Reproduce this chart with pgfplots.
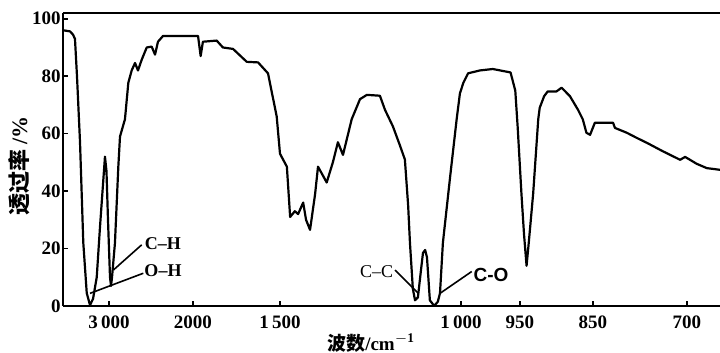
\documentclass[border=0pt]{standalone}
\usepackage{fontspec}
\setmainfont{Liberation Serif}
\newfontfamily\cjk{Noto Sans CJK SC}
\newfontfamily\sansb{Liberation Sans}
\usepackage{pgfplots}
\usepackage{pgfplotstable}
\pgfplotsset{compat=1.18}

% IR spectrum: wavenumber (cm^-1) vs transmittance (%)
\pgfplotstableread{
wn T
3548 96
3464 95.6
3429 94.5
3405 93
3381 80
3345 57
3306 22
3265 4.5
3226 0.3
3190 2.5
3146 10
3107 27.6
3077 40
3048 52
3030 47
3012 30
2988 10
2976 7
2964 10
2929 22
2889 48.5
2869 59
2810 65
2770 77.7
2730 82
2690 84.6
2655 82
2611 85.7
2551 90
2492 90.3
2452 87.5
2417 92
2357 94
1971 94
1956 87
1943 92
1864 92.4
1828 90
1770 89.5
1691 85
1626 84.8
1569 81
1519 66
1500 53
1481 48.5
1472 31
1459 33
1450 32
1436 36
1428 30
1417 26.5
1403 39
1395 48.5
1384 46
1371 43
1354 50
1340 57
1326 52.6
1302 65
1279 72
1260 73.5
1224 73.2
1210 68.3
1188 62.5
1169 56
1155 51
1146 35
1141 22
1133 6
1127 2
1119 3
1111 12
1105 18.5
1099 19.5
1094 17
1086 2
1077 0.5
1072 0.3
1064 1.5
1058 4.5
1050 22
1030 45
1012 65
1003 74
998 77.7
994 81
984 82
973 82.5
958 81.3
954 75
952 62.5
948 39
944.5 25
941 14
938 22
932 39
925 65
923 69
917 73
912 74.7
900 74.7
893 76
881.5 73
870.5 68.3
864 65
859 60.3
854 59.6
847 63.8
818 63.8
815 62
796 60.3
780 58.5
764 56.8
738 53.8
711 50.9
703 51.9
684.5 49.5
668.5 48
647 47.4
}\spectrum

% piecewise scale of the printed wavenumber axis
\newcommand{\wnpos}[1]{((#1)>1999.99 ? 109+(3000-(#1))*0.084 : ((#1)>1499.99 ? 193+(2000-(#1))*0.174 : ((#1)>999.99 ? 280+(1500-(#1))*0.362 : ((#1)>949.99 ? 461+(1000-(#1))*1.18 : ((#1)>849.99 ? 520+(950-(#1))*0.73 : 593+(850-(#1))*0.62667)))))}

\begin{document}
\begin{tikzpicture}
\begin{axis}[
  scale only axis, width=328.5pt, height=146.5pt,
  xmin=63, xmax=720, ymin=0, ymax=102,
  axis x line=box, axis y line=left,
  axis line style={-, line width=1pt, black},
  xtick pos=left, ytick pos=left,
  tick align=inside, major tick length=2.5pt,
  tick style={line width=0.8pt, black},
  xtick={109,193,280,461,520,593,687},
  xticklabels={3\,000,2000,1\,500,1\,000,950,850,700},
  ytick={0,20,40,60,80,100},
  /pgf/number format/assume math mode=true,
  tick label style={font=\fontsize{9.5}{10}\selectfont\bfseries},
  yticklabel style={inner xsep=1pt},
  xticklabel style={inner ysep=4.5pt},
  ylabel={{\cjk\bfseries 透过率} \textbf{/\%}},
  ylabel style={at={(axis description cs:-0.067,0.478)}, anchor=center, font=\fontsize{11}{12}\selectfont},
  xlabel={{\cjk\bfseries 波数}\textbf{/cm}$^{\mathbf{-1}}$},
  xlabel style={at={(axis description cs:0.469,-0.126)}, anchor=center, font=\fontsize{9.5}{10}\selectfont},
  clip=false,
]
\addplot[black, line width=1.1pt, line join=round] table[x expr={\wnpos{\thisrow{wn}}}, y=T] {\spectrum};

\draw[line width=0.8pt] (axis cs:113.3,12.5) -- (axis cs:141.7,21.3);
\draw[line width=0.8pt] (axis cs:90,4.4) -- (axis cs:143.3,11.4);
\draw[line width=0.8pt] (axis cs:395,12.5) -- (axis cs:418.3,4.4);
\draw[line width=0.8pt] (axis cs:471.7,12) -- (axis cs:440,4.4);
\node[font=\fontsize{9}{10}\selectfont\bfseries] at (axis cs:163,21.8) {C–H};
\node[font=\fontsize{9}{10}\selectfont\bfseries] at (axis cs:163,12.4) {O–H};
\node[font=\fontsize{9}{10}\selectfont] at (axis cs:376.7,12.0) {C–C};
\node[font=\fontsize{9.5}{10}\selectfont\sansb\bfseries] at (axis cs:491,10.8) {C-O};

\coordinate (SW) at (rel axis cs:0,0);
\coordinate (NE) at (rel axis cs:1,1);
\end{axis}
\pgfresetboundingbox
\path ([xshift=-31.5pt,yshift=-23.5pt]SW) rectangle ([yshift=6.5pt]NE);
\end{tikzpicture}
\end{document}
